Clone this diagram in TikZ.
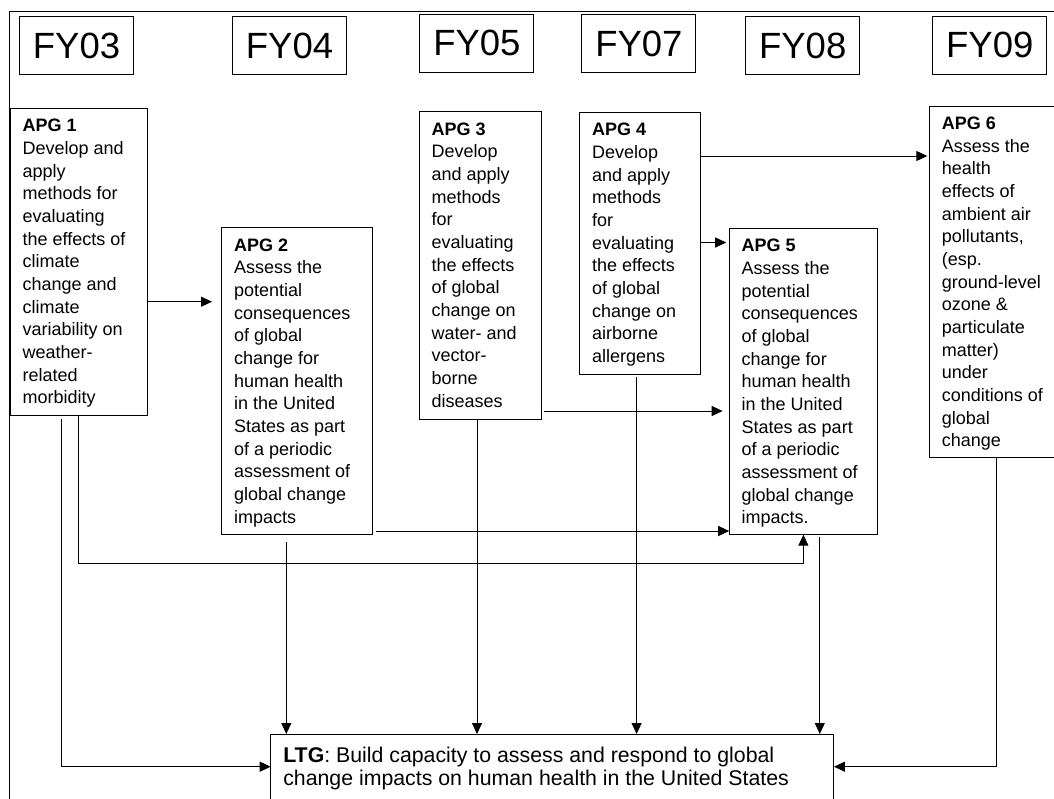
\documentclass[tikz,border=0pt]{standalone}
\usepackage{fontspec}
\setmainfont{Liberation Sans}
\usetikzlibrary{arrows.meta,calc}
\newcommand{\apgtext}[3]{\begin{minipage}[t][#2pt][t]{#1pt}\raggedright\fontsize{18}{22.67}\selectfont #3\end{minipage}}
\newcommand{\ltgtext}[3]{\begin{minipage}[t][#2pt][t]{#1pt}\raggedright\fontsize{21.3}{22.3}\selectfont #3\end{minipage}}
\tikzset{
  fybox/.style={draw, line width=1pt, minimum width=114pt, minimum height=58pt, inner sep=0pt,
    font=\fontsize{36.5}{40}\selectfont},
  apgbox/.style={draw, line width=1pt, anchor=north west, inner xsep=12.5pt, inner ysep=10.9pt, outer sep=0pt},
  ltgbox/.style={draw, line width=1pt, anchor=north west, inner xsep=12.6pt, inner ysep=13.3pt, outer sep=0pt},
  arr/.style={line width=1pt, -{Triangle[length=11pt,width=10pt]}},
  frame/.style={line width=1pt}
}
\begin{document}
\begin{tikzpicture}[x=1pt,y=-1pt]
\useasboundingbox (0,0) rectangle (1054,798);
\clip (0,0) rectangle (1054,798);
\fill[white] (0,0) rectangle (1054,798);
\draw[frame] (9.5,830) -- (9.5,11) -- (1080,11);

% year boxes
\node[fybox] (fy03) at (76.5,45.7) {FY03};
\node[fybox] (fy04) at (289.5,45.7) {FY04};
\node[fybox] (fy05) at (476.9,43.2) {FY05};
\node[fybox] (fy07) at (638.9,43.5) {FY07};
\node[fybox] (fy08) at (802.7,45.7) {FY08};
\node[fybox] (fy09) at (989.8,45.3) {FY09};

% goal boxes
\node[apgbox] (apg1) at (10.1,108.3) {\apgtext{112}{284.9}{\textbf{APG 1}\\Develop and\\apply\\methods for\\evaluating\\the effects of\\climate\\change and\\climate\\variability on\\weather-\\related\\morbidity}};
\node[apgbox] (apg2) at (221.7,227.7) {\apgtext{126.1}{285.2}{\textbf{APG 2}\\Assess the\\potential\\consequences\\of global\\change for\\human health\\in the United\\States as part\\of a periodic\\assessment of\\global change\\impacts}};
\node[apgbox] (apg3) at (419.1,111.7) {\apgtext{97}{285.5}{\textbf{APG 3}\\Develop\\and apply\\methods\\for\\evaluating\\the effects\\of global\\change on\\water- and\\vector-\\borne\\diseases}};
\node[apgbox] (apg4) at (579.6,112.3) {\apgtext{96.1}{240.2}{\textbf{APG 4}\\Develop\\and apply\\methods\\for\\evaluating\\the effects\\of global\\change on\\airborne\\allergens}};
\node[apgbox] (apg5) at (729.2,228.3) {\apgtext{123}{284.6}{\textbf{APG 5}\\Assess the\\potential\\consequences\\of global\\change for\\human health\\in the United\\States as part\\of a periodic\\assessment of\\global change\\impacts.}};
\node[apgbox] (apg6) at (929.3,106) {\apgtext{111}{329.9}{\textbf{APG 6}\\Assess the\\health\\effects of\\ambient air\\pollutants,\\(esp.\\ground-level\\ozone \&\\particulate\\matter)\\under\\conditions of\\global\\change}};
\node[ltgbox] (ltg) at (270.7,734) {\ltgtext{538}{53.4}{\textbf{LTG}: Build capacity to assess and respond to global\\change impacts on human health in the United States}};

% connectors between goals
\draw[arr] (apg1.east |- 0,301.7) -- ($(apg2.west |- 0,301.7)+(-9.7,0)$);
\draw[arr] (apg4.east |- 0,156) -- ($(apg6.west |- 0,156)+(-2,0)$);
\draw[arr] (apg4.east |- 0,242.5) -- ($(apg5.west |- 0,242.5)+(-3,0)$);
\draw[arr] ($(apg3.east |- 0,411)+(2.5,0)$) -- ($(apg5.west |- 0,411)+(-6.5,0)$);
\draw[arr] ($(apg2.east |- 0,531)+(3,0)$) -- (apg5.west |- 0,531);
\draw[arr] (apg1.south -| 78.4,0) -- (78.4,563) -- (803.4,563) -- (apg5.south -| 803.4,0);

% connectors into the long-term goal
\draw[arr] ($(apg1.south -| 61.5,0)+(0,4.3)$) -- (61.5,766.7) -- (ltg.west |- 0,766.7);
\draw[arr] ($(apg2.south -| 286.3,0)+(0,7.6)$) -- (ltg.north -| 286.3,0);
\draw[arr] (apg3.south -| 477,0) -- (ltg.north -| 477,0);
\draw[arr] ($(apg4.south -| 636.6,0)+(0,2.5)$) -- (ltg.north -| 636.6,0);
\draw[arr] ($(apg5.south -| 819.8,0)+(0,2.6)$) -- (ltg.north -| 819.8,0);
\draw[arr] (apg6.south -| 996.8,0) -- (996.8,766.7) -- (ltg.east |- 0,766.7);
\end{tikzpicture}
\end{document}
